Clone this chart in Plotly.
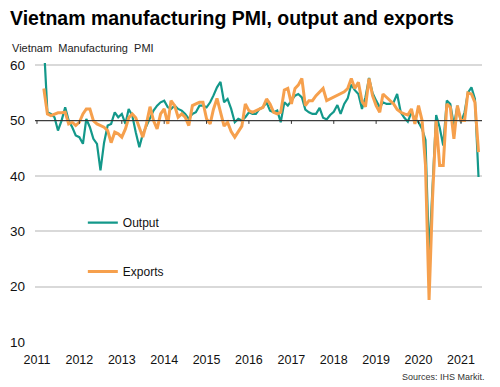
import pandas as pd
import plotly.graph_objects as go

# ---- data (monthly, Mar 2011 - Jun 2021) ----
start_month = "2011-03-01"
output = [
    64.0, 51.5, 51.2, 50.6, 48.2, 50.0, 52.4, 50.0, 48.8, 47.3,
    47.0, 45.8, 50.3, 48.8, 46.7, 45.8, 41.0, 46.0, 49.1, 49.4,
    51.5, 50.6, 51.2, 49.4, 52.1, 50.9, 47.9, 45.2, 47.6, 49.1,
    50.3, 51.8, 52.7, 53.3, 53.6, 52.4, 52.1, 52.7, 52.1, 51.8,
    51.2, 50.3, 51.2, 51.5, 52.7, 52.7, 52.4, 53.3, 54.5, 56.0,
    57.0, 53.3, 53.9, 52.1, 49.7, 50.3, 50.0, 50.6, 51.5, 51.2,
    51.2, 52.1, 52.4, 53.3, 51.8, 51.5, 51.8, 49.7, 53.3, 52.7,
    53.6, 54.5, 54.8, 54.2, 52.0, 51.5, 51.2, 51.2, 52.3, 50.5,
    50.2, 51.0, 51.6, 52.8, 51.2, 53.0, 54.0, 56.5, 55.5, 54.8,
    52.1, 54.2, 57.7, 55.0, 53.6, 52.4, 53.3, 53.0, 53.0, 53.3,
    54.8, 51.5, 50.5, 49.8, 51.5, 50.3, 49.7, 48.5, 46.5, 25.5,
    38.0, 51.0, 48.8, 45.5, 53.6, 53.0, 49.1, 52.7, 49.7, 51.5,
    55.0, 56.0, 53.9, 39.8,
]
exports = [
    55.8, 51.2, 50.9, 51.2, 51.4, 51.4, 51.5, 49.4, 49.7, 49.1,
    49.7, 51.2, 52.1, 52.1, 50.0, 49.4, 49.1, 48.8, 48.2, 46.0,
    47.9, 47.6, 47.0, 48.5, 50.5, 51.2, 50.5, 48.5, 47.0, 49.4,
    52.5, 50.0, 48.5, 51.2, 52.1, 49.4, 53.6, 52.7, 50.6, 51.2,
    50.6, 49.1, 52.7, 53.0, 53.3, 53.3, 50.3, 49.4, 52.0, 54.0,
    51.5, 49.0, 49.7, 48.0, 47.0, 48.0, 49.0, 53.0, 51.8, 51.5,
    51.8, 52.1, 52.4, 53.9, 53.0, 51.5, 51.2, 51.5, 55.5, 55.8,
    53.0, 55.8, 56.4, 57.6, 52.7, 53.6, 53.6, 54.5, 55.2, 55.8,
    53.6, 53.9, 54.2, 54.5, 54.8, 55.2, 55.8, 57.6, 55.8, 56.9,
    53.5, 52.5, 57.6, 54.5, 52.7, 51.5, 54.8, 54.2, 53.6, 53.0,
    52.0, 51.5, 51.2, 51.0, 52.1, 49.4, 52.7, 50.0, 42.0, 17.6,
    36.0, 50.0, 41.9, 41.9, 53.0, 52.4, 46.7, 52.7, 50.0, 50.0,
    55.0, 54.8, 53.3, 44.3,
]
dates = pd.date_range(start_month, periods=len(output), freq="MS")
years = list(range(2011, 2022))
year_labels = [str(y) for y in years]
y_ticks = [10, 20, 30, 40, 50, 60]

TEAL = "#13988a"
ORANGE = "#f6a04d"
FONT = "Arial, Liberation Sans, sans-serif"

# page body adds an 8px offset; figure is sized to the remaining viewport
W, H = 492, 379
ML, MR, MT, MB = 27, 18, 55, 45
PW, PH = W - ML - MR, H - MT - MB

fig = go.Figure()
fig.add_trace(go.Scatter(x=dates, y=output, mode="lines", name="Output",
                         line=dict(color=TEAL, width=2.2), legendgroup="a"))
fig.add_trace(go.Scatter(x=dates, y=exports, mode="lines", name="Exports",
                         line=dict(color=ORANGE, width=3), legendgroup="b"))

year_dates = [pd.Timestamp(f"{y}-01-01") for y in years]

# dark 50 reference line with small year ticks
fig.add_shape(type="line", xref="paper", x0=0, x1=1, yref="y", y0=50, y1=50,
              line=dict(color="#333333", width=1))
for d in year_dates:
    fig.add_shape(type="line", xref="x", x0=d, x1=d, yref="y", y0=50, y1=49.4,
                  line=dict(color="#333333", width=1))

fig.update_layout(
    width=W, height=H,
    margin=dict(l=ML, r=MR, t=MT, b=MB, pad=0),
    paper_bgcolor="white", plot_bgcolor="white",
    font=dict(family=FONT, color="#111111"),
    showlegend=True,
    legend=dict(x=0.107, y=0.48, xanchor="left", yanchor="top",
                font=dict(size=12, color="#111111"),
                tracegroupgap=30, itemwidth=30, bgcolor="rgba(0,0,0,0)"),
    xaxis=dict(type="date", range=["2010-12-15", "2021-07-01"],
               tickvals=year_dates, ticktext=year_labels,
               showgrid=False, showline=False, zeroline=False, ticks="",
               tickfont=dict(size=12.5, color="#111111"),
               ticklabelstandoff=8, automargin=False),
    yaxis=dict(range=[10, 60.4], tickvals=y_ticks,
               showgrid=True, gridcolor="#d9d9d9", gridwidth=1.5,
               zeroline=False, showline=False, ticks="",
               tickfont=dict(size=13.5, color="#111111"),
               ticklabelstandoff=9, automargin=False),
    annotations=[
        dict(text="<b>Vietnam manufacturing PMI, output and exports</b>",
             xref="paper", yref="paper", x=-ML / PW, y=1 + (MT - 10) / PH,
             xanchor="left", yanchor="middle", showarrow=False,
             xshift=0, font=dict(size=19.5, color="#000000")),
        dict(text="Vietnam  Manufacturing  PMI",
             xref="paper", yref="paper", x=-ML / PW, y=1 + (MT - 40) / PH,
             xanchor="left", yanchor="middle", showarrow=False,
             xshift=2, font=dict(size=11, color="#222222")),
        dict(text="Sources: IHS Markit.",
             xref="paper", yref="paper", x=1, y=-(369 - (H - MB)) / PH,
             xanchor="right", yanchor="middle", showarrow=False,
             xshift=5, font=dict(size=9, color="#333333")),
    ],
)

fig.write_html("out.html")
